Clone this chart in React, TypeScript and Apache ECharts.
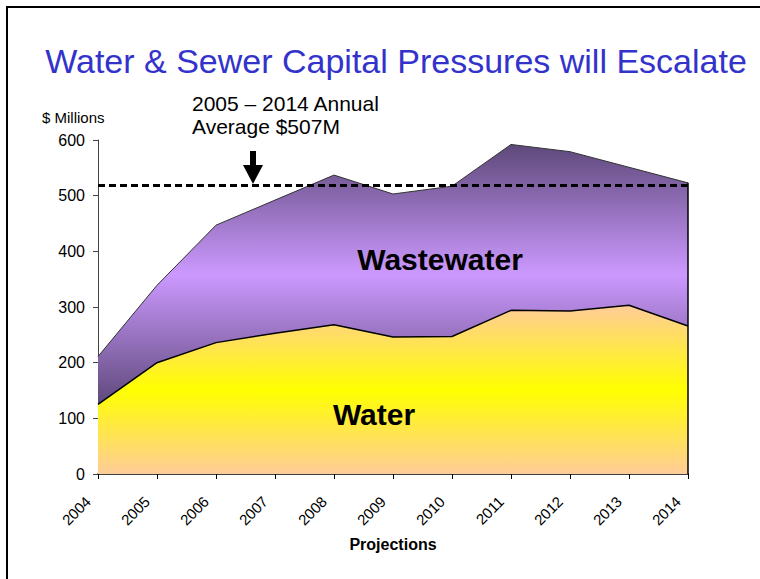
import React, { useEffect, useRef } from "react";
import * as echarts from "echarts";

const years = ["2004", "2005", "2006", "2007", "2008", "2009", "2010", "2011", "2012", "2013", "2014"];
const water = [125, 200, 236, 253, 268, 246, 247, 294, 293, 303, 266];
const wastewater = [86, 139, 211, 239, 269, 257, 270, 298, 286, 248, 257];
const averageLine = 519;
const yTicks = [0, 100, 200, 300, 400, 500, 600];

const FONT = "'Liberation Sans', Arial, sans-serif";

export default function App() {
  const ref = useRef<HTMLDivElement>(null);
  useEffect(() => {
    if (!ref.current) return;
    const chart = echarts.init(ref.current, undefined, { renderer: "svg" });
    const lastYear = years[years.length - 1];
    const lastTotal = water[water.length - 1] + wastewater[wastewater.length - 1];
    chart.setOption({
      animation: false,
      backgroundColor: "#ffffff",
      textStyle: { fontFamily: FONT },
      grid: { left: 98, right: 72, top: 140, bottom: 105, containLabel: false },
      xAxis: {
        type: "category",
        data: years,
        boundaryGap: false,
        name: "Projections",
        nameLocation: "middle",
        nameGap: 62,
        nameTextStyle: { fontFamily: FONT, fontSize: 16, fontWeight: "bold", color: "#000" },
        axisLine: { lineStyle: { color: "#000", width: 1.5 } },
        axisTick: { show: true, length: 5, lineStyle: { color: "#000" } },
        axisLabel: {
          rotate: 45,
          fontFamily: FONT,
          fontSize: 15,
          color: "#000",
          margin: 15,
          padding: [0, 14, 0, 0],
        },
        splitLine: { show: false },
      },
      yAxis: {
        type: "value",
        min: yTicks[0],
        max: yTicks[yTicks.length - 1],
        interval: 100,
        axisLine: { show: true, lineStyle: { color: "#444", width: 1 } },
        axisTick: { show: true, length: 5, lineStyle: { color: "#444" } },
        axisLabel: { fontFamily: FONT, fontSize: 16, color: "#000", margin: 13 },
        splitLine: { show: false },
      },
      series: [
        {
          name: "Water",
          type: "line",
          stack: "total",
          data: water,
          symbol: "none",
          lineStyle: { color: "#000", width: 1.5 },
          areaStyle: {
            opacity: 1,
            color: new echarts.graphic.LinearGradient(0, 0, 0, 1, [
              { offset: 0, color: "#FFCC99" },
              { offset: 0.5, color: "#FFFF00" },
              { offset: 1, color: "#FFCC99" },
            ]),
          },
          z: 2,
        },
        {
          name: "Wastewater",
          type: "line",
          stack: "total",
          data: wastewater,
          symbol: "none",
          lineStyle: { color: "#333", width: 1 },
          areaStyle: {
            opacity: 1,
            color: new echarts.graphic.LinearGradient(0, 0, 0, 1, [
              { offset: 0, color: "#5E497A" },
              { offset: 0.5, color: "#CC99FF" },
              { offset: 1, color: "#5E497A" },
            ]),
          },
          z: 1,
          markLine: {
            silent: true,
            symbol: "none",
            label: { show: false },
            data: [
              [
                { coord: [years[0], averageLine] },
                { coord: [lastYear, averageLine] },
              ],
              [
                { coord: [lastYear, 0], lineStyle: { type: "solid", width: 1.5, color: "#000" } },
                { coord: [lastYear, lastTotal], lineStyle: { type: "solid", width: 1.5, color: "#000" } },
              ],
            ],
            lineStyle: { color: "#000", width: 3, type: [7, 4] },
          },
        },
      ],
      graphic: [
        {
          type: "rect",
          shape: { x: 7, y: 7, width: 800, height: 620 },
          style: { fill: "none", stroke: "#000", lineWidth: 2 },
          z: 0,
        },
        {
          type: "text",
          x: 396,
          y: 61,
          style: {
            text: "Water & Sewer Capital Pressures will Escalate",
            font: `34px ${FONT}`,
            fill: "#3333CC",
            align: "center",
            verticalAlign: "middle",
          },
        },
        {
          type: "text",
          x: 42,
          y: 117,
          style: { text: "$ Millions", font: `15px ${FONT}`, fill: "#000", verticalAlign: "middle" },
        },
        {
          type: "text",
          x: 192,
          y: 92,
          style: {
            text: "2005 – 2014 Annual\nAverage $507M",
            font: `21px ${FONT}`,
            lineHeight: 23,
            fill: "#000",
          },
        },
        {
          type: "rect",
          shape: { x: 250, y: 151, width: 6, height: 16 },
          style: { fill: "#000" },
          z: 10,
        },
        {
          type: "polygon",
          shape: { points: [[243, 165], [263, 165], [253, 184]] },
          style: { fill: "#000" },
          z: 10,
        },
        {
          type: "text",
          x: 440,
          y: 259,
          style: {
            text: "Wastewater",
            font: `bold 30px ${FONT}`,
            fill: "#000",
            align: "center",
            verticalAlign: "middle",
          },
          z: 10,
        },
        {
          type: "text",
          x: 374,
          y: 414,
          style: {
            text: "Water",
            font: `bold 30px ${FONT}`,
            fill: "#000",
            align: "center",
            verticalAlign: "middle",
          },
          z: 10,
        },
      ],
    });
    return () => chart.dispose();
  }, []);
  return <div ref={ref} style={{ width: 760, height: 579, position: "absolute", left: 0, top: 0 }} />;
}
